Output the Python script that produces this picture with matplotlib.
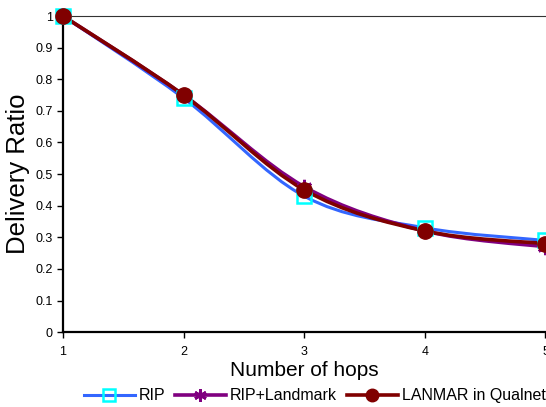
import matplotlib
matplotlib.use("Agg")
import matplotlib.pyplot as plt
from matplotlib.path import Path
from matplotlib.patches import PathPatch
from matplotlib.lines import Line2D
import numpy as np

plt.rcParams['font.family'] = ['Liberation Sans', 'DejaVu Sans']

# values
hops = [1, 2, 3, 4, 5]
rip = [1.0, 0.74, 0.43, 0.33, 0.29]
rip_landmark = [1.0, 0.75, 0.46, 0.32, 0.27]
lanmar = [1.0, 0.75, 0.45, 0.32, 0.28]
labels = ["RIP", "RIP+Landmark", "LANMAR in Qualnet"]
yticks = [0, 0.1, 0.2, 0.3, 0.4, 0.5, 0.6, 0.7, 0.8, 0.9, 1]
ytick_labels = ["0", "0.1", "0.2", "0.3", "0.4", "0.5", "0.6", "0.7", "0.8", "0.9", "1"]


def smooth_path(xs, ys):
    # excel style smoothed line: catmull-rom turned into cubic bezier pieces
    pts = np.column_stack([xs, ys]).astype(float)
    ext = np.vstack([pts[0], pts, pts[-1]])
    verts = [pts[0]]
    codes = [Path.MOVETO]
    for i in range(len(pts) - 1):
        p0, p1, p2, p3 = ext[i], ext[i + 1], ext[i + 2], ext[i + 3]
        c1 = p1 + (p2 - p0) / 6.0
        c2 = p2 - (p3 - p1) / 6.0
        verts += [c1, c2, p2]
        codes += [Path.CURVE4] * 3
    return Path(verts, codes)


fig = plt.figure(figsize=(5.46, 4.07), dpi=100)
ax = fig.add_axes([0.1154, 0.184, 0.8836, 0.7766])

# (values, line colour, line width, marker style, marker size in plot, size in legend)
series = [
    (rip, "#3366FF", 2.2, dict(marker="s", markerfacecolor="none",
                              markeredgecolor="#00FFFF", markeredgewidth=1.8), 10, 8),
    (rip_landmark, "#800080", 2.6, dict(marker=(6, 2, 0),
                                       markeredgecolor="#800080", markeredgewidth=2.0), 11, 9),
    (lanmar, "#800000", 2.6, dict(marker="o", markerfacecolor="#800000",
                                  markeredgecolor="#800000"), 11, 9),
]

handles = []
for vals, col, lw, mk, ms, ms_leg in series:
    ax.add_patch(PathPatch(smooth_path(hops, vals), facecolor="none",
                           edgecolor=col, lw=lw, transform=ax.transData,
                           clip_on=False))
    ax.plot(hops, vals, linestyle="none", clip_on=False, zorder=3, markersize=ms, **mk)
    handles.append(Line2D([], [], color=col, lw=lw, markersize=ms_leg, **mk))

ax.set_xlim(1, 5)
ax.set_ylim(0, 1)
ax.set_xticks(hops)
ax.set_yticks(yticks)
ax.set_yticklabels(ytick_labels)
ax.tick_params(axis="both", labelsize=9, direction="out", length=4, width=1)
ax.tick_params(axis="x", pad=6)

ax.spines["right"].set_visible(False)
ax.spines["top"].set_linewidth(0.8)
ax.spines["top"].set_color("#333333")
ax.spines["left"].set_linewidth(1.6)
ax.spines["bottom"].set_linewidth(1.6)

ax.set_xlabel("Number of hops", fontsize=15, labelpad=2)
ax.set_ylabel("Delivery Ratio", fontsize=18.5, labelpad=4)

fig.legend(handles, labels, loc="center", bbox_to_anchor=(0.576, 0.028),
           ncol=3, frameon=False, fontsize=11.5, handlelength=3.2,
           handletextpad=0.25, columnspacing=0.6, borderpad=0, borderaxespad=0)

fig.savefig("out.png", dpi=100)
